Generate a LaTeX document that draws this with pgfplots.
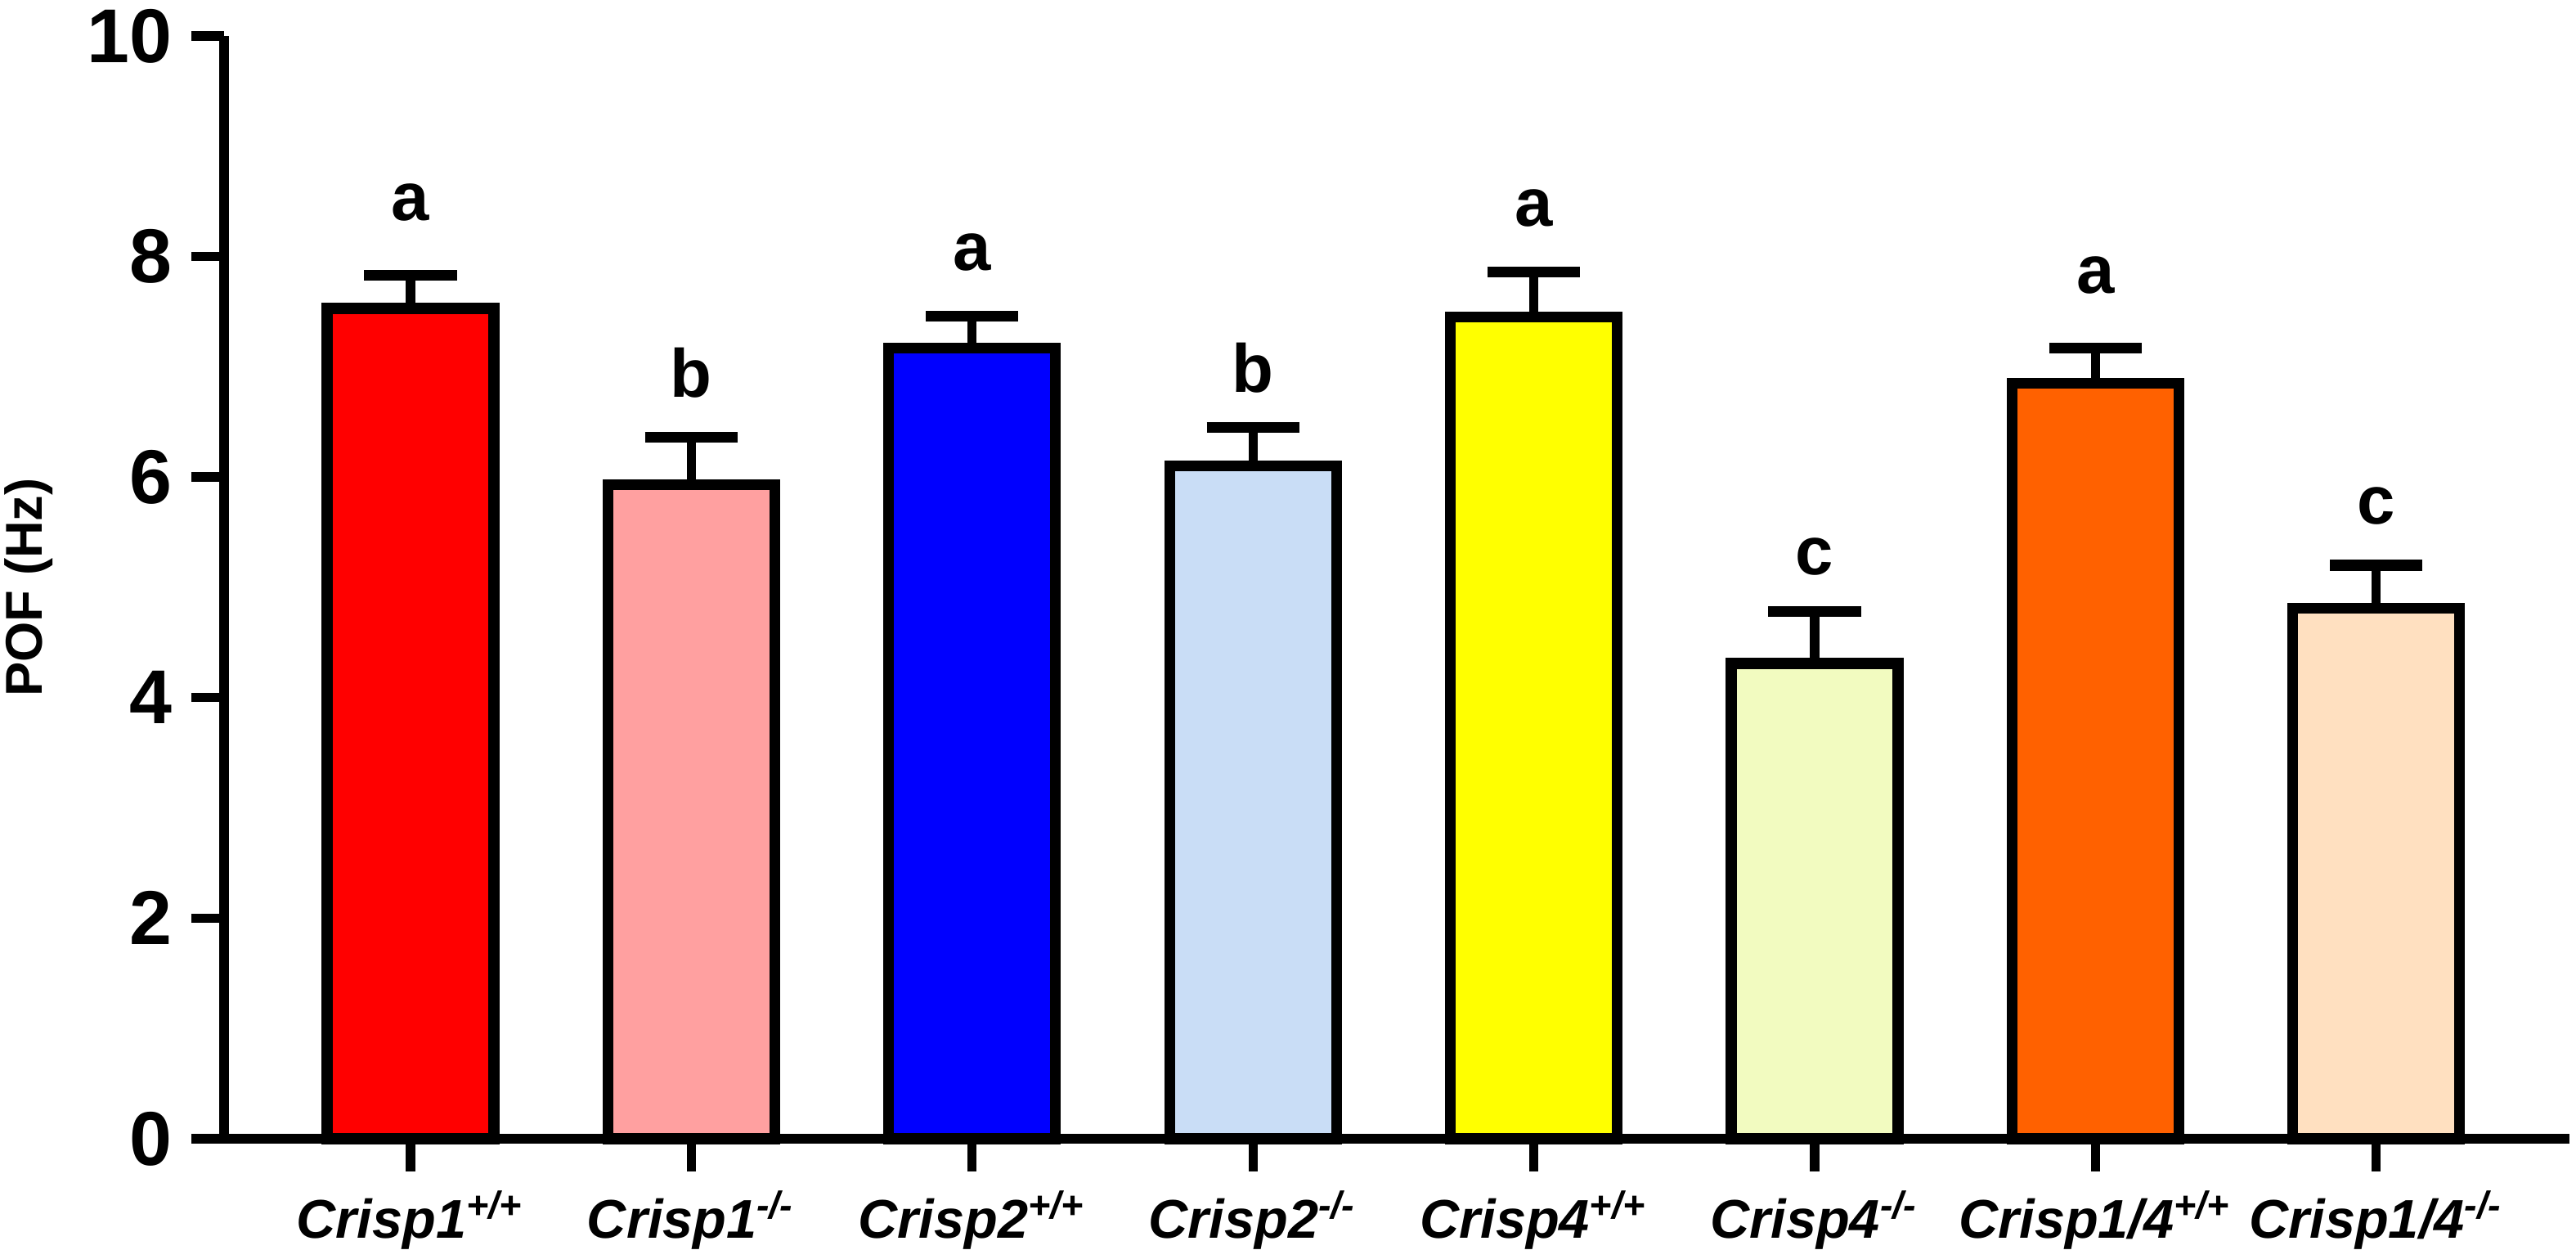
\documentclass[border=0pt]{standalone}
\usepackage{pgfplots}
\pgfplotsset{compat=1.18}
\usepackage{fontspec}
\setmainfont{Liberation Sans}
\definecolor{c1}{HTML}{FF0000}
\definecolor{c2}{HTML}{FFA0A0}
\definecolor{c3}{HTML}{0000FF}
\definecolor{c4}{HTML}{C9DDF6}
\definecolor{c5}{HTML}{FFFF00}
\definecolor{c6}{HTML}{F2FBC0}
\definecolor{c7}{HTML}{FF6100}
\definecolor{c8}{HTML}{FFE0C0}
\begin{document}
\begin{tikzpicture}
\begin{axis}[
  scale only axis, width=430.2pt, height=202.2pt,
  xmin=-0.664, xmax=7.688, ymin=0, ymax=10,
  axis x line=bottom, axis y line=left,
  axis line style={line width=1.7pt,-},
  xtick={0,...,7}, ytick={0,2,...,10},
  xticklabels={{Crisp1\textsuperscript{+/+}},{Crisp1\textsuperscript{-/-}},{Crisp2\textsuperscript{+/+}},{Crisp2\textsuperscript{-/-}},{Crisp4\textsuperscript{+/+}},{Crisp4\textsuperscript{-/-}},{Crisp1/4\textsuperscript{+/+}},{Crisp1/4\textsuperscript{-/-}}},
  tick align=outside, major tick length=6pt,
  tick style={line width=1.7pt, black},
  /pgf/number format/assume math mode=true,
  yticklabel style={font=\bfseries\fontsize{14}{14}\selectfont},
  xticklabel style={font=\bfseries\itshape\fontsize{10}{12}\selectfont},
  ylabel={POF (Hz)},
  ylabel style={font=\bfseries\fontsize{9.5}{11}\selectfont, at={(axis description cs:-0.0833,0.5)}, anchor=center},
  clip=false,
  mybar/.style={ybar, bar width=30.6pt, bar shift=0pt, draw=black, line width=2pt,
    error bars/y dir=plus, error bars/y explicit,
    error bars/error bar style={line width=1.7pt, black},
    error bars/error mark options={rotate=90, line width=2pt, mark size=8.5pt, black}},
]
\addplot[mybar, fill=c1] coordinates {(0,7.53) +- (0,0.30)};
\addplot[mybar, fill=c2] coordinates {(1,5.93) +- (0,0.43)};
\addplot[mybar, fill=c3] coordinates {(2,7.17) +- (0,0.29)};
\addplot[mybar, fill=c4] coordinates {(3,6.10) +- (0,0.35)};
\addplot[mybar, fill=c5] coordinates {(4,7.45) +- (0,0.41)};
\addplot[mybar, fill=c6] coordinates {(5,4.31) +- (0,0.47)};
\addplot[mybar, fill=c7] coordinates {(6,6.85) +- (0,0.32)};
\addplot[mybar, fill=c8] coordinates {(7,4.81) +- (0,0.39)};
\addplot[draw=none, mark=none, nodes near coords, point meta=explicit symbolic,
  every node near coord/.append style={inner sep=0pt, font=\bfseries\fontsize{12.5}{14}\selectfont}]
  coordinates {(0,8.31)[a] (1,6.71)[b] (2,7.86)[a] (3,6.75)[b] (4,8.26)[a] (5,5.10)[c] (6,7.65)[a] (7,5.56)[c]};
\end{axis}
\pgfresetboundingbox
\path ([shift={(-41.1pt,-20.4pt)}]current axis.south west) rectangle ([shift={(1.2pt,6.6pt)}]current axis.north east);
\end{tikzpicture}
\end{document}
